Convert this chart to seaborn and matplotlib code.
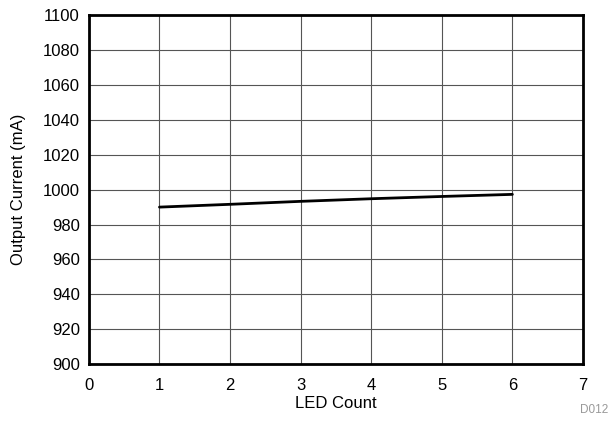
import matplotlib
matplotlib.use("Agg")
import matplotlib.pyplot as plt
import seaborn as sns
import pandas as pd

# --- data ---
led_count = [1, 2, 3, 4, 5, 6]
output_current = [990.0, 991.6, 993.3, 994.8, 996.1, 997.3]

x_ticks = [0, 1, 2, 3, 4, 5, 6, 7]
y_ticks = [900, 920, 940, 960, 980, 1000, 1020, 1040, 1060, 1080, 1100]

df = pd.DataFrame({"LED Count": led_count, "Output Current (mA)": output_current})

sns.set_theme(style="white")
plt.rcParams['font.family'] = ['Liberation Sans', 'DejaVu Sans']

fig = plt.figure(figsize=(6.13, 4.21), dpi=100)
ax = fig.add_axes([0.145, 0.135, 0.806, 0.829])

sns.lineplot(data=df, x="LED Count", y="Output Current (mA)", color="black",
             linewidth=2, ax=ax)

ax.set_xlim(0, 7)
ax.set_ylim(900, 1100)
ax.set_xticks(x_ticks)
ax.set_yticks(y_ticks)
ax.grid(True, color="#555555", linewidth=0.8)
ax.set_axisbelow(True)
for s in ax.spines.values():
    s.set_color("black")
    s.set_linewidth(2)
ax.tick_params(axis="both", length=0, labelsize=12, colors="black")
ax.tick_params(axis="x", pad=10)
ax.tick_params(axis="y", pad=6.5)
ax.set_xlabel("LED Count", fontsize=12, color="black", labelpad=2)
ax.set_ylabel("Output Current (mA)", fontsize=12, color="black", labelpad=12)

fig.text(0.992, 0.012, "D012", ha="right", va="bottom", fontsize=8.5, color="#999999")

plt.savefig("out.png", dpi=100)
